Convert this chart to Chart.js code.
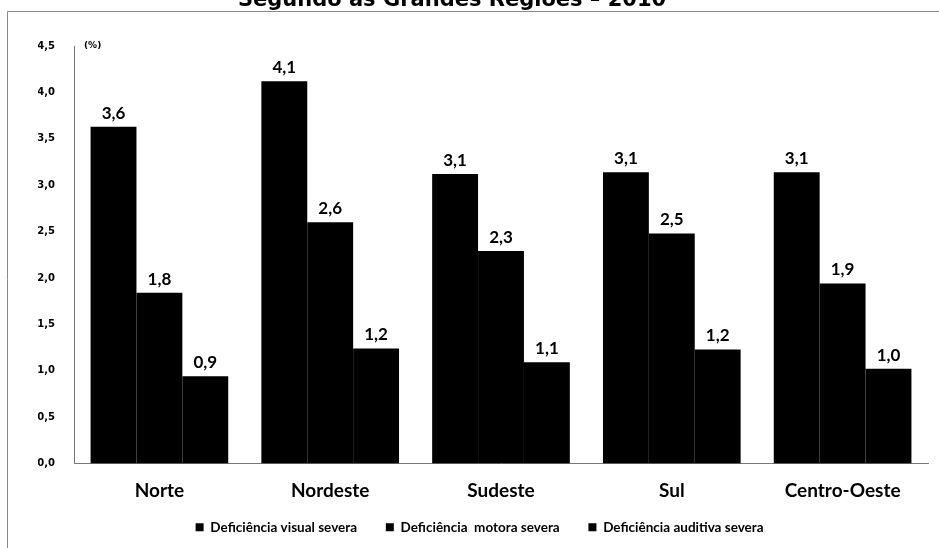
<!DOCTYPE html>
<html>
<head>
<meta charset="utf-8">
<script src="https://cdn.jsdelivr.net/npm/chart.js@4.4.1/dist/chart.umd.min.js"></script>
<style>
  html, body { margin: 0; padding: 0; background: #fff; }
  #wrap { width: 939px; height: 548px; }
</style>
</head>
<body>
<div id="wrap"><canvas id="barChart" width="939" height="548"></canvas></div>
<script>
var regioes = ['Norte', 'Nordeste', 'Sudeste', 'Sul', 'Centro-Oeste'];
var visual = [3.63, 4.12, 3.12, 3.14, 3.14];
var motora = [1.84, 2.60, 2.29, 2.48, 1.94];
var auditiva = [0.94, 1.24, 1.09, 1.23, 1.02];
var yTicks = [0, 0.5, 1, 1.5, 2, 2.5, 3, 3.5, 4, 4.5];

function virgula(v) {
    return v.toFixed(1).replace('.', ',');
}

// moldura, titulo cortado, (%) e rotulos das barras
var extras = {
    id: 'extras',
    beforeDraw: function(chart) {
        var c = chart.ctx;
        c.save();
        c.strokeStyle = '#8a8a8a';
        c.lineWidth = 1;
        c.beginPath();
        c.moveTo(7.5, 548);
        c.lineTo(7.5, 11.5);
        c.lineTo(939, 11.5);
        c.stroke();
        c.fillStyle = '#000';
        c.font = 'bold 21px "DejaVu Sans"';
        c.textAlign = 'center';
        c.textBaseline = 'alphabetic';
        c.fillText('Segundo as Grandes Regiões – 2010', 452, 6);
        c.restore();
    },
    afterDatasetsDraw: function(chart) {
        var c = chart.ctx;
        c.save();
        c.fillStyle = '#000';
        c.font = 'bold 17px Lato';
        c.textAlign = 'center';
        c.textBaseline = 'bottom';
        chart.data.datasets.forEach(function(ds, i) {
            chart.getDatasetMeta(i).data.forEach(function(bar, j) {
                c.fillText(virgula(ds.data[j]), bar.x, bar.y - 5);
            });
        });
        c.font = 'bold 9px "DejaVu Sans"';
        c.textAlign = 'left';
        c.textBaseline = 'middle';
        c.fillText('(%)', 84, 46);
        c.restore();
    }
};

var ctx = document.getElementById('barChart').getContext('2d');
var myChart = new Chart(ctx, {
    type: 'bar',
    data: {
        labels: regioes,
        datasets: [{
            label: 'Deficiência visual severa',
            data: visual,
            backgroundColor: '#000'
        }, {
            label: 'Deficiência  motora severa',
            data: motora,
            backgroundColor: '#000'
        }, {
            label: 'Deficiência auditiva severa',
            data: auditiva,
            backgroundColor: '#000'
        }]
    },
    options: {
        responsive: false,
        animation: false,
        layout: { padding: { left: 38, right: 11, top: 46, bottom: 4 } },
        datasets: { bar: { barPercentage: 1.0, categoryPercentage: 0.806 } },
        plugins: {
            legend: {
                position: 'bottom',
                labels: {
                    boxWidth: 8,
                    boxHeight: 8,
                    padding: 22,
                    color: '#000',
                    font: { family: 'Lato', weight: 'bold', size: 13.5 },
                    generateLabels: function(chart) {
                        // um pouco mais de espaco entre os itens
                        return Chart.defaults.plugins.legend.labels.generateLabels(chart).map(function(l) {
                            l.text = l.text + '\u2002';
                            return l;
                        });
                    }
                }
            },
            tooltip: { enabled: false }
        },
        scales: {
            x: {
                grid: { display: false },
                border: { display: true, color: '#777' },
                ticks: {
                    color: '#000',
                    padding: 8,
                    font: { family: 'Lato', weight: 'bold', size: 19 }
                },
                afterFit: function(s) { s.height = 35; }
            },
            y: {
                min: 0,
                max: 4.5,
                afterBuildTicks: function(s) {
                    s.ticks = yTicks.map(function(v) { return { value: v }; });
                },
                grid: { display: false },
                border: { display: true, color: '#777' },
                ticks: {
                    color: '#000',
                    padding: 11,
                    font: { family: 'DejaVu Sans', weight: 'bold', size: 10 },
                    callback: function(v) { return virgula(v); }
                },
                afterFit: function(s) { s.width = 36; }
            }
        }
    },
    plugins: [extras]
});
</script>
</body>
</html>
